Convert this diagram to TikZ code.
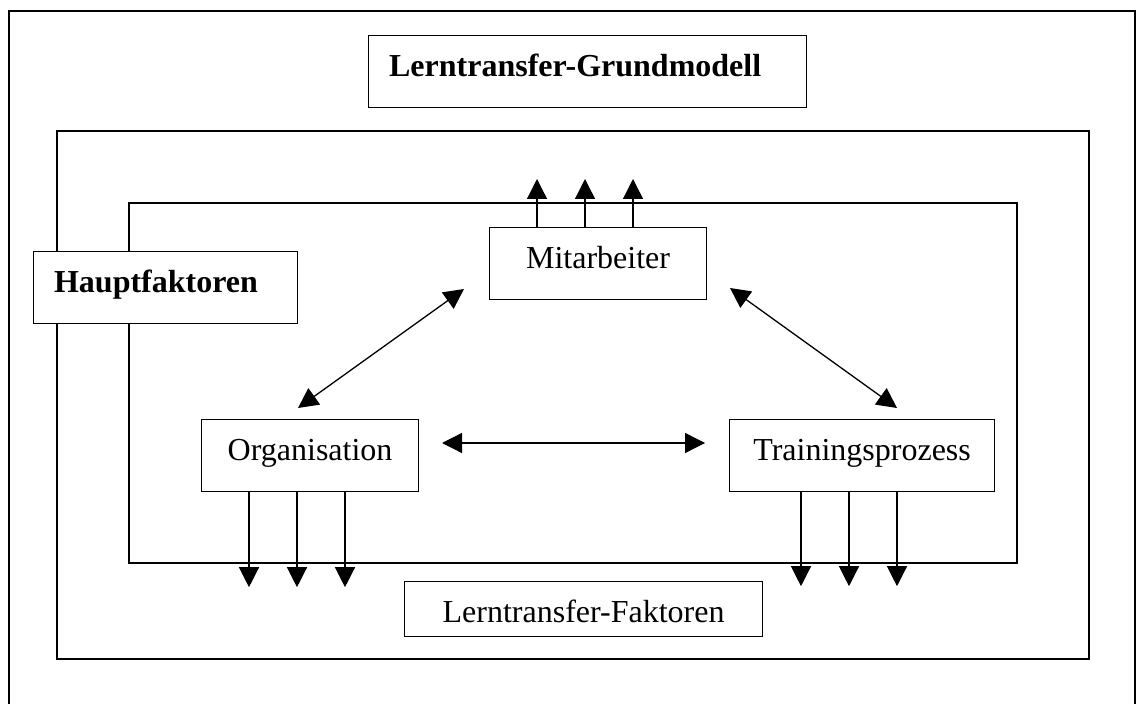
\documentclass[tikz,border=0pt]{standalone}
\usepackage{fontspec}
\setmainfont{Liberation Serif}
\usetikzlibrary{arrows.meta}

\tikzset{
  frame/.style={draw, line width=0.6pt},
  box/.style={draw, fill=white, line width=0.6pt, inner sep=0pt,
    anchor=north west, text height=20.5pt, text depth=15.5pt,
    font=\fontsize{16pt}{19pt}\selectfont},
  boldbox/.style={box, align=left, inner xsep=10.25pt,
    font=\fontsize{16pt}{19pt}\selectfont\bfseries},
  arr/.style={line width=0.65pt, -{Triangle[length=10pt,width=10pt]}},
  darr/.style={line width=0.65pt, {Triangle[length=10pt,width=10pt]}-{Triangle[length=10pt,width=10pt]}}
}

\begin{document}
\begin{tikzpicture}[x=0.5pt, y=-0.5pt]
  \useasboundingbox (0,0) rectangle (1138,704);

  % surrounding frame, open at the bottom
  \draw[frame] (9,704) |- (1135,11) -- (1135,704);
  % frame of the main factors and frame of the model
  \draw[frame] (57,131) rectangle (1089,659);
  \draw[frame] (129,203) rectangle (1017,563);

  % labelled boxes
  \node[boldbox, text width=198.5pt] (title) at (368,35) {Lerntransfer-Grundmodell};
  \node[boldbox, text width=111.5pt] (haupt) at (33,251) {Hauptfaktoren};
  \node[box, minimum width=108.5pt] (mit) at (489,227) {Mitarbeiter};
  \node[box, minimum width=108.5pt] (org) at (201,419) {Organisation};
  \node[box, minimum width=132.5pt] (train) at (729,419) {Trainingsprozess};
  \node[box, minimum width=179pt, text depth=7pt] (lf) at (404,581) {Lerntransfer-Faktoren};

  % arrows leaving the boxes
  \foreach \dx in {24pt,48pt,72pt} {
    \draw[arr] ([xshift=\dx]mit.north west) -- ++(0,-48);
    \draw[arr] ([xshift=\dx]org.south west) -- ++(0,95);
  }
  \foreach \dx in {36pt,60pt,84pt} {
    \draw[arr] ([xshift=\dx]train.south west) -- ++(0,94);
  }

  % mutual relations between the three factors
  \coordinate (mitL) at (464,289);
  \coordinate (orgT) at (298,408);
  \coordinate (mitR) at (730,288);
  \coordinate (trainT) at (897,408);
  \coordinate (orgR) at (442,443);
  \coordinate (trainL) at (705,443);
  \draw[darr] (mitL) -- (orgT);
  \draw[darr] (mitR) -- (trainT);
  \draw[darr] (orgR) -- (trainL);
\end{tikzpicture}
\end{document}
